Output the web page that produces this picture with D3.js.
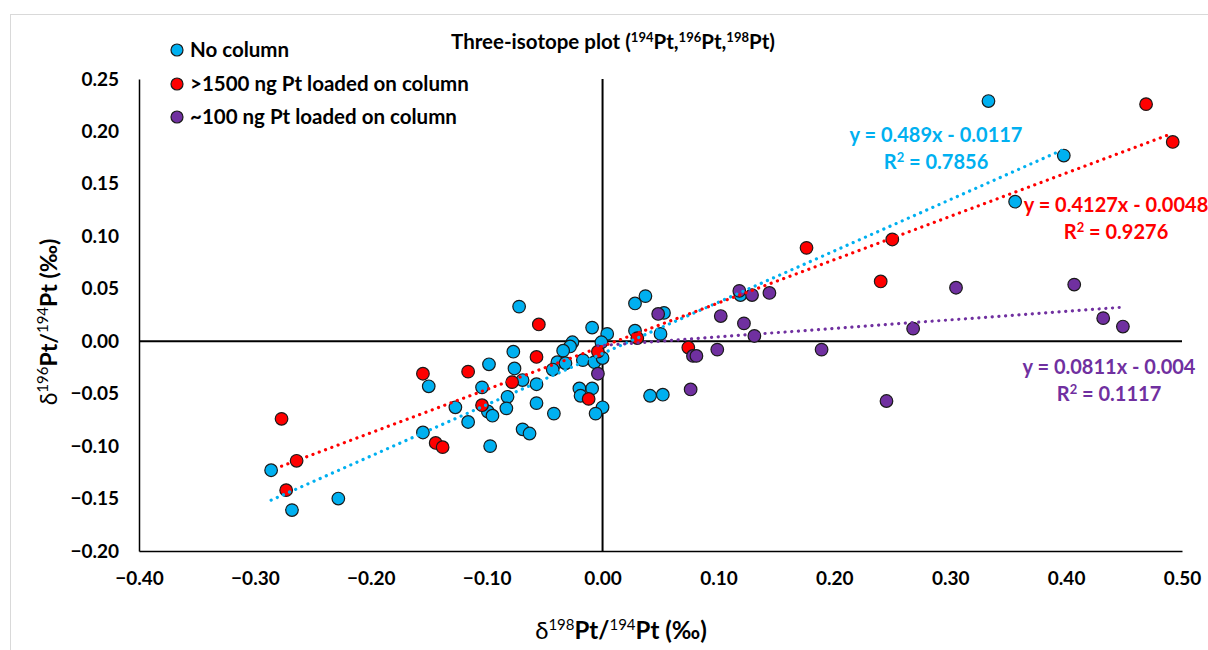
<!DOCTYPE html>
<html>
<head>
<meta charset="utf-8">
<script src="https://cdn.jsdelivr.net/npm/d3@7"></script>
<style>
  html, body { margin: 0; padding: 0; background: #fff; }
  svg { display: block; font-family: Lato, "Open Sans", sans-serif; }
</style>
</head>
<body>
<svg id="ch" width="1208" height="650"></svg>
<script>
// delta198/194 vs delta196/194, per ‰
const noColumn = [
  [0.333, 0.229], [0.398, 0.177], [0.356, 0.133],
  [-0.009, 0.013], [0.004, 0.007], [-0.001, -0.001], [0.028, 0.036], [0.037, 0.043],
  [0.053, 0.027], [0.028, 0.010], [0.050, 0.007], [0.119, 0.044],
  [-0.017, -0.018], [-0.007, -0.020], [0.000, -0.016], [-0.009, -0.045], [-0.020, -0.045],
  [-0.019, -0.052], [0.000, -0.063], [-0.006, -0.069], [0.041, -0.052], [0.052, -0.051],
  [-0.072, 0.033], [-0.026, -0.001], [-0.028, -0.005], [-0.034, -0.009], [-0.077, -0.010],
  [-0.098, -0.022], [-0.076, -0.026], [-0.039, -0.020], [-0.032, -0.021], [-0.043, -0.027],
  [-0.069, -0.037], [-0.057, -0.041], [-0.104, -0.044], [-0.150, -0.043], [-0.082, -0.053],
  [-0.127, -0.063], [-0.099, -0.067], [-0.095, -0.071], [-0.083, -0.064], [-0.057, -0.059],
  [-0.042, -0.069], [-0.116, -0.077], [-0.155, -0.087], [-0.069, -0.084], [-0.063, -0.088],
  [-0.097, -0.100], [-0.286, -0.123], [-0.268, -0.161], [-0.228, -0.150]
];
const highLoad = [
  [0.469, 0.226], [0.492, 0.190], [0.176, 0.089], [0.250, 0.097], [0.240, 0.057],
  [-0.055, 0.016], [0.030, 0.003], [0.074, -0.006], [-0.004, -0.010], [-0.012, -0.055],
  [-0.057, -0.015], [-0.116, -0.029], [-0.155, -0.031], [-0.078, -0.039], [-0.104, -0.061],
  [-0.144, -0.097], [-0.138, -0.101], [-0.277, -0.074], [-0.264, -0.114], [-0.273, -0.142]
];
const lowLoad = [
  [0.305, 0.051], [0.407, 0.054], [0.432, 0.022], [0.449, 0.014], [0.268, 0.012],
  [0.189, -0.008], [0.245, -0.057], [-0.004, -0.031], [0.048, 0.026], [0.076, -0.046],
  [0.078, -0.014], [0.081, -0.014], [0.099, -0.008], [0.102, 0.024], [0.122, 0.017],
  [0.131, 0.005], [0.118, 0.048], [0.129, 0.044], [0.144, 0.046]
];
const seriesNames = ["No column", ">1500 ng Pt loaded on column", "~100 ng Pt loaded on column"];
const seriesColors = ["#00B0F0", "#FF0000", "#7030A0"];
const slopes = [0.489, 0.4127, 0.0811];
const intercepts = [-0.0117, -0.0048, -0.004];
const eqLabels = ["y = 0.489x - 0.0117", "y = 0.4127x - 0.0048", "y = 0.0811x - 0.004"];
const r2Labels = ["0.7856", "0.9276", "0.1117"];
const xTicks = [-0.4, -0.3, -0.2, -0.1, 0, 0.1, 0.2, 0.3, 0.4, 0.5];
const yTicks = [-0.2, -0.15, -0.1, -0.05, 0, 0.05, 0.1, 0.15, 0.2, 0.25];

const svg = d3.select("#ch");
const x = d3.scaleLinear().domain([-0.4, 0.5]).range([139, 1182]);
const y = d3.scaleLinear().domain([-0.2, 0.25]).range([551, 79]);

// chart frame
svg.append("rect").attr("x", 10.5).attr("y", 14.5).attr("width", 1220).attr("height", 660)
  .attr("fill", "none").attr("stroke", "#d9d9d9");

svg.append("text").attr("x", 613).attr("y", 49).attr("text-anchor", "middle")
  .attr("font-size", 20.5).attr("font-weight", 700).attr("fill", "#000")
  .call(t => {
    t.append("tspan").text("Three-isotope plot (");
    t.append("tspan").attr("font-size", 13).attr("dy", -7).text("194");
    t.append("tspan").attr("dy", 7).text("Pt,");
    t.append("tspan").attr("font-size", 13).attr("dy", -7).text("196");
    t.append("tspan").attr("dy", 7).text("Pt,");
    t.append("tspan").attr("font-size", 13).attr("dy", -7).text("198");
    t.append("tspan").attr("dy", 7).text("Pt)");
  });

// axes (Excel-like: labels outside, no tick marks)
const ya = svg.append("g").attr("transform", "translate(139,0)")
  .call(d3.axisLeft(y).tickValues(yTicks).tickSize(0).tickPadding(20).tickFormat(d3.format(".2f")));
const xa = svg.append("g").attr("transform", "translate(0,551)")
  .call(d3.axisBottom(x).tickValues(xTicks).tickSize(0).tickPadding(21).tickFormat(d3.format(".2f")));
[ya, xa].forEach(a => {
  a.select(".domain").attr("stroke", "#000").attr("stroke-width", 1.5);
  a.selectAll("text").attr("font-family", "Lato, sans-serif").attr("font-size", 19)
    .attr("font-weight", 700).attr("fill", "#000");
});

// zero lines
svg.append("line").attr("x1", x(-0.4)).attr("x2", x(0.5)).attr("y1", y(0)).attr("y2", y(0))
  .attr("stroke", "#000").attr("stroke-width", 2);
svg.append("line").attr("x1", x(0)).attr("x2", x(0)).attr("y1", y(0.25)).attr("y2", y(-0.2))
  .attr("stroke", "#000").attr("stroke-width", 2);

// axis titles
const axisTitle = (sel, sup) => {
  sel.append("tspan").text("δ");
  sel.append("tspan").attr("font-size", 15).attr("dy", -9).text(sup);
  sel.append("tspan").attr("dy", 9).attr("font-weight", 700).text("Pt/");
  sel.append("tspan").attr("font-size", 15).attr("dy", -9).text("194");
  sel.append("tspan").attr("dy", 9).attr("font-weight", 700).text("Pt (‰)");
};
svg.append("text").attr("x", 621).attr("y", 639).attr("text-anchor", "middle")
  .attr("font-size", 24).attr("fill", "#000").call(axisTitle, "198");
svg.append("text").attr("transform", "translate(57,322) rotate(-90)").attr("text-anchor", "middle")
  .attr("font-size", 23).attr("fill", "#000").call(axisTitle, "196");

// markers
const allSeries = [noColumn, highLoad, lowLoad];
allSeries.forEach((pts, i) => {
  svg.append("g").selectAll("circle").data(pts).enter().append("circle")
    .attr("cx", d => x(d[0])).attr("cy", d => y(d[1])).attr("r", 6.3)
    .attr("fill", seriesColors[i]).attr("stroke", "#1a1a1a").attr("stroke-width", 1.2);
});

// trendlines over the data extent of each series
allSeries.forEach((pts, i) => {
  const [x0, x1] = d3.extent(pts, d => d[0]);
  const f = v => slopes[i] * v + intercepts[i];
  svg.append("line").attr("x1", x(x0)).attr("y1", y(f(x0))).attr("x2", x(x1)).attr("y2", y(f(x1)))
    .attr("stroke", seriesColors[i]).attr("stroke-width", 3.2).attr("stroke-linecap", "round")
    .attr("stroke-dasharray", "0.1 6.6");
});

// equation labels (red one runs off the right edge, as in the original)
const eqPos = [[936, 142], [1116, 212], [1109, 374]];
eqPos.forEach((p, i) => {
  const t = svg.append("text").attr("text-anchor", "middle").attr("font-size", 20)
    .attr("font-weight", 700).attr("fill", seriesColors[i]);
  t.append("tspan").attr("x", p[0]).attr("y", p[1]).text(eqLabels[i]);
  const r = t.append("tspan").attr("x", p[0]).attr("y", p[1] + 27);
  r.append("tspan").text("R");
  r.append("tspan").attr("font-size", 13).attr("dy", -7).text("2");
  r.append("tspan").attr("dy", 7).text(" = " + r2Labels[i]);
});

// legend
const leg = svg.append("g").selectAll("g").data(seriesNames).enter().append("g")
  .attr("transform", (d, i) => `translate(177,${[50, 84, 117][i]})`);
leg.append("circle").attr("r", 6).attr("fill", (d, i) => seriesColors[i])
  .attr("stroke", "#1a1a1a").attr("stroke-width", 1.2);
leg.append("text").attr("x", 13).attr("dy", "0.35em").attr("font-size", 20.5).attr("font-weight", 700)
  .attr("fill", "#000").text(d => d);
</script>
</body>
</html>
